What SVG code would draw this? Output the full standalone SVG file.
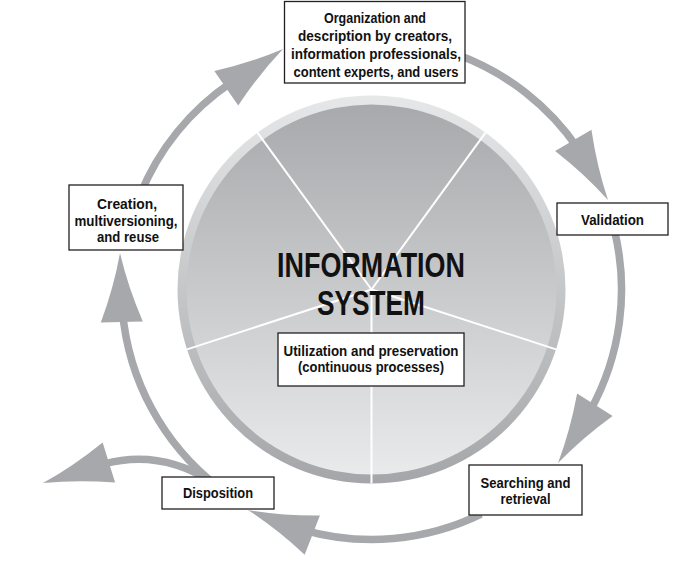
<svg xmlns="http://www.w3.org/2000/svg" xmlns:xlink="http://www.w3.org/1999/xlink" width="673" height="564" viewBox="0 0 673 564">
<style>
.box{fill:#fff;stroke:#231f20;stroke-width:1.3}
.lbl{font-family:'Liberation Sans',Arial,sans-serif;font-weight:bold;font-size:15px;fill:#111;text-anchor:middle}
.title{font-family:'Liberation Sans',Arial,sans-serif;font-weight:bold;font-size:35px;fill:#111;text-anchor:middle}
.arc{fill:none;stroke:#a7a8ab;stroke-width:7.5}
.head{fill:#a7a8ab}
.sep{stroke:#fff;stroke-width:2}
</style>
<defs>
<linearGradient id="pieFill" x1="0" y1="0" x2="0" y2="1">
<stop offset="0" stop-color="#a8a9ac"/>
<stop offset="1" stop-color="#e9eaeb"/>
</linearGradient>
<linearGradient id="ringFill" x1="0" y1="0" x2="0" y2="1">
<stop offset="0" stop-color="#e6e7e8"/>
<stop offset="1" stop-color="#a5a6a9"/>
</linearGradient>
<path id="ah" d="M0,0 Q-34,-7 -69,-21 L-69,21 Q-34,7 0,0 Z"/>
</defs>
<rect width="673" height="564" fill="#fff"/>
<g id="information-system">
<circle cx="371.5" cy="289.5" r="194" fill="url(#ringFill)"/>
<circle cx="371.5" cy="289.5" r="185" fill="url(#pieFill)"/>
<line class="sep" x1="371.5" y1="289.5" x2="257.5" y2="132.6"/>
<line class="sep" x1="371.5" y1="289.5" x2="485.5" y2="132.6"/>
<line class="sep" x1="371.5" y1="289.5" x2="556" y2="349.4"/>
<line class="sep" x1="371.5" y1="289.5" x2="187" y2="349.4"/>
<line class="sep" x1="371.5" y1="289.5" x2="371.5" y2="483.5"/>
<text class="title" x="371" y="277" textLength="188" lengthAdjust="spacingAndGlyphs">INFORMATION</text>
<text class="title" x="371" y="315" textLength="108" lengthAdjust="spacingAndGlyphs">SYSTEM</text>
</g>
<g id="connectors">
<path class="arc" d="M139.7,195.8 A250,250 0 0 1 231.7,82.2"/>
<use xlink:href="#ah" class="head" transform="translate(283,49) rotate(-34.7)"/>
<path class="arc" d="M457,54.6 A250,250 0 0 1 578.8,149.7"/>
<use xlink:href="#ah" class="head" transform="translate(608,200) rotate(59.8)"/>
<path class="arc" d="M614.1,229 A250,250 0 0 1 590.2,410.7"/>
<use xlink:href="#ah" class="head" transform="translate(558,463) rotate(122.3)"/>
<path class="arc" d="M481.1,514.2 A250,250 0 0 1 302.6,529.8"/>
<use xlink:href="#ah" class="head" transform="translate(248,510) rotate(201.3)"/>
<path class="arc" d="M217.6,486.5 A250,250 0 0 1 122.5,311.3"/>
<use xlink:href="#ah" class="head" transform="translate(120,253) rotate(268.5)"/>
<path class="arc" d="M212,482 Q160,449 104,464"/>
<use xlink:href="#ah" class="head" transform="translate(43,483) rotate(162.7)"/>
</g>
<g id="node-organization">
<rect class="box" x="284.5" y="1.5" width="180.5" height="81.5"/>
<text class="lbl" x="375" y="23" textLength="102" lengthAdjust="spacingAndGlyphs">Organization and</text>
<text class="lbl" x="375" y="41" textLength="154" lengthAdjust="spacingAndGlyphs">description by creators,</text>
<text class="lbl" x="376" y="59" textLength="170" lengthAdjust="spacingAndGlyphs">information professionals,</text>
<text class="lbl" x="376" y="77" textLength="165" lengthAdjust="spacingAndGlyphs">content experts, and users</text>
</g>
<g id="node-validation">
<rect class="box" x="557" y="203" width="111" height="32"/>
<text class="lbl" x="612.5" y="225" textLength="63" lengthAdjust="spacingAndGlyphs">Validation</text>
</g>
<g id="node-searching">
<rect class="box" x="469" y="465" width="113" height="50"/>
<text class="lbl" x="525.5" y="488" textLength="90" lengthAdjust="spacingAndGlyphs">Searching and</text>
<text class="lbl" x="525.5" y="504" textLength="50" lengthAdjust="spacingAndGlyphs">retrieval</text>
</g>
<g id="node-disposition">
<rect class="box" x="162" y="477" width="112" height="32"/>
<text class="lbl" x="218" y="498" textLength="70" lengthAdjust="spacingAndGlyphs">Disposition</text>
</g>
<g id="node-creation">
<rect class="box" x="69" y="185" width="114" height="65"/>
<text class="lbl" x="127" y="209" textLength="60" lengthAdjust="spacingAndGlyphs">Creation,</text>
<text class="lbl" x="126" y="226" textLength="103" lengthAdjust="spacingAndGlyphs">multiversioning,</text>
<text class="lbl" x="128" y="242" textLength="62" lengthAdjust="spacingAndGlyphs">and reuse</text>
</g>
<g id="node-utilization">
<rect class="box" x="278" y="333" width="186" height="53"/>
<text class="lbl" x="371" y="356" textLength="175" lengthAdjust="spacingAndGlyphs">Utilization and preservation</text>
<text class="lbl" x="371" y="372" textLength="146" lengthAdjust="spacingAndGlyphs">(continuous processes)</text>
</g>
</svg>
